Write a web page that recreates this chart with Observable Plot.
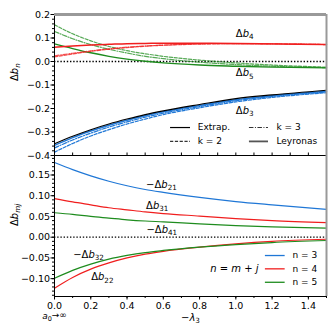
<!DOCTYPE html>
<html><head><meta charset="utf-8">
<script src="https://cdn.jsdelivr.net/npm/d3@7"></script>
<script src="https://cdn.jsdelivr.net/npm/@observablehq/plot@0.6"></script>
<style>
body{margin:0;background:#fff;}
#chart{position:relative;width:336px;height:336px;font-family:"DejaVu Sans",sans-serif;}
#chart svg{position:absolute;left:0;overflow:visible;}
</style></head><body><div id="chart"></div>
<script>
// x values (−λ3)
const lam = [0, 0.1, 0.2, 0.3, 0.4, 0.5, 0.6, 0.8, 1.0, 1.2, 1.5];

// Top panel: Δb_n
const b3Extrap = [-0.350,-0.318,-0.290,-0.266,-0.245,-0.226,-0.210,-0.183,-0.158,-0.142,-0.122];
const b3Ley    = [-0.357,-0.324,-0.296,-0.271,-0.250,-0.231,-0.214,-0.187,-0.163,-0.146,-0.127];
const b3K3     = [-0.368,-0.334,-0.305,-0.279,-0.257,-0.237,-0.220,-0.192,-0.167,-0.149,-0.130];
const b3K2     = [-0.386,-0.349,-0.317,-0.290,-0.266,-0.245,-0.226,-0.197,-0.172,-0.153,-0.133];
const b4Ley    = [0.061,0.066,0.070,0.073,0.076,0.077,0.078,0.078,0.077,0.075,0.072];
const b4K2     = [0.020,0.032,0.043,0.052,0.059,0.065,0.069,0.074,0.076,0.075,0.072];
const b4K3     = [0.024,0.035,0.045,0.054,0.061,0.066,0.070,0.075,0.076,0.075,0.072];
const b5Ley    = [0.075,0.055,0.037,0.022,0.010,0.001,-0.006,-0.015,-0.020,-0.024,-0.027];
const b5K2     = [0.156,0.118,0.088,0.064,0.046,0.033,0.022,0.006,-0.006,-0.015,-0.024];
const b5K3     = [0.128,0.097,0.072,0.052,0.036,0.022,0.012,-0.003,-0.013,-0.020,-0.026];

// Bottom panel: Δb_mj
const mb21 = [0.180,0.163,0.148,0.135,0.124,0.115,0.108,0.096,0.086,0.078,0.067];
const b31  = [0.093,0.085,0.078,0.071,0.066,0.061,0.057,0.051,0.045,0.040,0.035];
const mb41 = [0.059,0.055,0.050,0.046,0.042,0.039,0.037,0.032,0.028,0.025,0.022];
const mb32 = [-0.099,-0.080,-0.065,-0.053,-0.044,-0.037,-0.032,-0.024,-0.018,-0.013,-0.008];
const b22  = [-0.123,-0.097,-0.077,-0.062,-0.050,-0.041,-0.034,-0.024,-0.016,-0.010,-0.005];

// ticks
const xTicks = [0, 0.2, 0.4, 0.6, 0.8, 1.0, 1.2, 1.4];
const xMinor = [0,0.1,0.2,0.3,0.4,0.5,0.6,0.7,0.8,0.9,1.0,1.1,1.2,1.3,1.4,1.5];
const yTicksTop = [-0.4,-0.3,-0.2,-0.1,0,0.1,0.2];
const yTicksBot = [-0.10,-0.05,0,0.05,0.10,0.15];

// annotation labels
const topLabels = [{t:"Δb_4", x:1.0, y:0.118},{t:"Δb_5", x:1.0, y:-0.050},{t:"Δb_3", x:1.0, y:-0.211}];
const botLabels = [{t:"−Δb_21", x:0.505, y:0.127},{t:"Δb_31", x:0.505, y:0.0766},{t:"−Δb_41", x:0.507, y:0.018},
                   {t:"−Δb_32", x:0.103, y:-0.0426},{t:"Δb_22", x:0.202, y:-0.0966}];
const topLegend = ["Extrap.", "k = 2", "k = 3", "Leyronas"];
const botLegend = ["n = 3", "n = 4", "n = 5"];

const BLUE = "#1f77d6", RED = "#f01e1e", GREEN = "#1e8c1e";
const DASH = "3.2,1.6", DASHDOT = "4.5,1.5,1,1.5";

const rows = (vals) => lam.map((x, i) => ({x, y: vals[i]}));
const line = (vals, o) => Plot.line(rows(vals), {x:"x", y:"y", curve:"monotone-x", strokeWidth:1.2, ...o});

const W = 336, ML = 54, MR = 10;
const st = {background:"transparent", overflow:"visible", fontFamily:"DejaVu Sans", fontSize:"9.5px", color:"black"};

const topPlot = Plot.plot({
  width: W, height: 155, marginTop: 14, marginBottom: 0, marginLeft: ML, marginRight: MR,
  style: st,
  x: {domain: [0, 1.5]},
  y: {domain: [-0.4, 0.2]},
  marks: [
    Plot.ruleY([0], {stroke:"black", strokeDasharray:"1.4,1.8", strokeWidth:1.3}),
    line(b5K2, {stroke: GREEN, strokeDasharray: DASH, strokeOpacity: 0.75}),
    line(b5K3, {stroke: GREEN, strokeDasharray: DASHDOT, strokeOpacity: 0.75}),
    line(b5Ley, {stroke: GREEN, strokeWidth: 1.4}),
    line(b4K2, {stroke: RED, strokeDasharray: DASH, strokeOpacity: 0.75}),
    line(b4K3, {stroke: RED, strokeDasharray: DASHDOT, strokeOpacity: 0.75}),
    line(b4Ley, {stroke: RED, strokeWidth: 1.5}),
    line(b3K2, {stroke: BLUE, strokeDasharray: DASH}),
    line(b3K3, {stroke: BLUE, strokeDasharray: DASHDOT}),
    line(b3Ley, {stroke: BLUE, strokeWidth: 1.5}),
    line(b3Extrap, {stroke: "black", strokeWidth: 1.1}),
    Plot.axisY({ticks: yTicksTop, tickFormat: d3.format(".1f"), tickSize: 3.5, tickPadding: 1, label: null}),
    Plot.axisY({ticks: d3.range(-40, 21, 2).map(d => d/100), tickSize: 2, tickFormat: () => "", label: null}),
    Plot.axisX({ticks: xMinor, tickSize: -2.5, tickFormat: () => "", label: null}),
    Plot.ruleX([0], {stroke: "black"}),
    Plot.ruleY([-0.4], {stroke: "black"}),
    Plot.ruleY([0.2], {stroke: "#999", strokeWidth: 3}),
    Plot.ruleX([1.5], {stroke: "#999", strokeWidth: 2}),
    Plot.text(topLabels, {x:"x", y:"y", text:"t", textAnchor:"start", fontSize: 10}),
    Plot.text(["Δb_n"], {frameAnchor: "left", rotate: -90, dx: -40, dy: -4, fontSize: 10}),
    // legend
    Plot.ruleY([{x1:0.64, x2:0.75, y:-0.281}], {x1:"x1", x2:"x2", y:"y", stroke:"black", strokeWidth:1.2}),
    Plot.ruleY([{x1:0.64, x2:0.75, y:-0.340}], {x1:"x1", x2:"x2", y:"y", stroke:"#333", strokeWidth:1.1, strokeDasharray: DASH}),
    Plot.ruleY([{x1:1.075, x2:1.18, y:-0.281}], {x1:"x1", x2:"x2", y:"y", stroke:"#333", strokeWidth:1.1, strokeDasharray: DASHDOT}),
    Plot.ruleY([{x1:1.075, x2:1.18, y:-0.340}], {x1:"x1", x2:"x2", y:"y", stroke:"#555", strokeWidth:1.8}),
    Plot.text([{t: topLegend[0], x:0.79, y:-0.281},{t: topLegend[1], x:0.79, y:-0.340},
               {t: topLegend[2], x:1.224, y:-0.281},{t: topLegend[3], x:1.224, y:-0.340}],
              {x:"x", y:"y", text:"t", textAnchor:"start", fontSize: 9})
  ]
});

const botPlot = Plot.plot({
  width: W, height: 181, marginTop: 0, marginBottom: 40, marginLeft: ML, marginRight: MR,
  style: st,
  x: {domain: [0, 1.5]},
  y: {domain: [-0.143, 0.197]},
  marks: [
    Plot.ruleY([0], {stroke:"black", strokeDasharray:"1.4,1.8", strokeWidth:1.3}),
    line(mb21, {stroke: BLUE}),
    line(b31, {stroke: RED}),
    line(mb41, {stroke: GREEN}),
    line(b22, {stroke: RED}),
    line(mb32, {stroke: GREEN}),
    Plot.axisX({ticks: xTicks, tickFormat: d3.format(".1f"), tickSize: 3.5, tickPadding: 2.5, label: null}),
    Plot.axisX({ticks: xMinor, tickSize: 2, tickFormat: () => "", label: null}),
    Plot.axisY({ticks: yTicksBot, tickFormat: d3.format(".2f"), tickSize: 3.5, tickPadding: 1, label: null}),
    Plot.axisY({ticks: d3.range(-14, 20, 1).map(d => d/100), tickSize: 2, tickFormat: () => "", label: null}),
    Plot.ruleX([0], {stroke: "black"}),
    Plot.ruleY([-0.143], {stroke: "black"}),
    Plot.ruleX([1.5], {stroke: "#999", strokeWidth: 2}),
    Plot.text(botLabels, {x:"x", y:"y", text:"t", textAnchor:"start", fontSize: 10}),
    Plot.text(["Δb_mj"], {frameAnchor: "left", rotate: -90, dx: -40, fontSize: 10}),
    Plot.text(["−λ_3"], {frameAnchor: "bottom", lineAnchor: "middle", dy: 21, fontSize: 10}),
    Plot.text([{t:"a_0→∞", x:0}], {x:"x", text:"t", frameAnchor: "bottom", lineAnchor: "middle", dy: 19.5, fontSize: 9}),
    // legend
    Plot.ruleY([{x1:1.163, x2:1.272, y:-0.0442, c: BLUE},{x1:1.163, x2:1.272, y:-0.0763, c: RED},{x1:1.163, x2:1.272, y:-0.1087, c: GREEN}],
               {x1:"x1", x2:"x2", y:"y", stroke: d => d.c, strokeWidth: 1.3}),
    Plot.text([{t: botLegend[0], y:-0.0442},{t: botLegend[1], y:-0.0763},{t: botLegend[2], y:-0.1087}],
              {x: () => 1.312, y:"y", text:"t", textAnchor:"start", fontSize: 9}),
    Plot.text([{t:"n = m + j", x:1.125, y:-0.0763}], {x:"x", y:"y", text:"t", textAnchor:"end", fontSize: 10, fontStyle: "italic"})
  ]
});

function rich(svg) {
  d3.select(svg).selectAll("text").each(function() {
    const s = this.textContent;
    const m = s.match(/^(.*?)([A-Za-zλ])_([A-Za-z0-9]+)(.*)$/);
    if (!m) return;
    const el = d3.select(this);
    el.selectAll("*").remove();
    el.text(null);
    if (m[1]) el.append("tspan").text(m[1]);
    el.append("tspan").attr("font-style", "italic").text(m[2]);
    const sub = el.append("tspan").attr("dy", "0.3em").attr("font-size", "0.72em").text(m[3]);
    if (/[a-z]/.test(m[3])) sub.attr("font-style", "italic");
    if (m[4]) el.append("tspan").attr("dy", "-0.3em").text(m[4]);
  });
}
rich(topPlot); rich(botPlot);

topPlot.style.top = "0px";
botPlot.style.top = "155px";
const c = document.getElementById("chart");
c.appendChild(topPlot);
c.appendChild(botPlot);
</script>
</body></html>
